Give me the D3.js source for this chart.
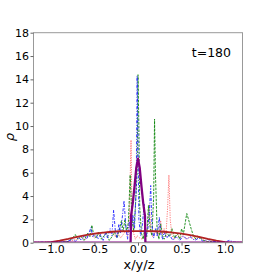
<!DOCTYPE html>
<html><head><meta charset="utf-8">
<script src="https://cdn.jsdelivr.net/npm/d3@7"></script>
<style>
html,body{margin:0;padding:0;background:#fff;}
svg{display:block;font-family:"DejaVu Sans",sans-serif;}
</style></head>
<body><div id="chart"></div>
<script>
const xTicks = [-1.0, -0.5, 0.0, 0.5, 1.0];
const yTicks = [0, 2, 4, 6, 8, 10, 12, 14, 16, 18];
const annotation = "t=180";

const blueX = [-1.2,-1.1,-1.0,-0.92,-0.85,-0.8,-0.75,-0.72,-0.68,-0.65,-0.62,-0.59,-0.56,-0.54,-0.52,-0.49,-0.46,-0.43,-0.4,-0.37,-0.35,-0.32,-0.3,-0.28,-0.26,-0.24,-0.22,-0.2,-0.18,-0.16,-0.14,-0.12,-0.1,-0.08,-0.06,-0.04,-0.02,-0.01,0.0,0.01,0.03,0.05,0.07,0.09,0.11,0.13,0.146,0.16,0.18,0.2,0.22,0.245,0.26,0.28,0.3,0.33,0.36,0.4,0.44,0.48,0.52,0.56,0.6,0.65,0.7,0.75,0.8,0.85,0.9,1.0,1.05,1.1,1.2];
const blueY = [0.02,0.05,0.03,0.08,0.05,0.15,0.3,0.1,0.45,0.2,0.6,0.3,0.9,1.3,0.5,0.8,0.3,0.7,0.2,0.9,0.4,1.2,0.6,2.8,1.0,0.4,1.6,0.8,2.2,3.6,1.4,0.3,1.8,0.8,2.4,1.2,5.0,14.3,9.0,2.0,0.6,1.5,3.3,0.5,1.0,2.5,4.9,1.5,0.4,1.2,0.6,2.2,0.8,0.3,0.9,0.4,0.7,0.2,0.5,0.2,0.6,0.3,0.5,0.2,0.4,0.1,0.3,0.05,0.15,0.05,0.2,0.05,0.02];

const greenX = [-1.2,-1.0,-0.9,-0.8,-0.75,-0.72,-0.69,-0.66,-0.62,-0.58,-0.55,-0.53,-0.51,-0.48,-0.45,-0.42,-0.39,-0.36,-0.33,-0.3,-0.27,-0.24,-0.21,-0.19,-0.17,-0.15,-0.13,-0.11,-0.09,-0.07,-0.05,-0.03,-0.01,0.0,0.01,0.02,0.04,0.06,0.08,0.1,0.12,0.14,0.16,0.18,0.19,0.2,0.22,0.24,0.26,0.28,0.3,0.33,0.36,0.39,0.42,0.45,0.48,0.5,0.52,0.54,0.56,0.58,0.61,0.64,0.67,0.7,0.75,0.8,0.9,1.0,1.2];
const greenY = [0.0,0.02,0.05,0.1,0.4,0.7,0.3,0.6,0.2,0.8,0.5,1.5,0.7,0.4,0.9,0.3,0.6,0.8,0.2,0.5,0.9,0.4,1.2,1.9,1.0,2.0,0.9,1.8,5.8,2.0,1.0,3.0,6.0,14.4,10.0,3.0,0.8,0.3,1.4,0.5,3.2,1.2,0.6,4.0,10.6,6.0,1.0,0.3,1.6,0.6,0.3,0.9,0.5,1.2,0.4,0.8,0.3,1.2,0.7,1.6,2.5,2.0,1.2,0.5,0.3,0.5,0.2,0.1,0.05,0.02,0.0];

const redX = [-1.2,-1.0,-0.9,-0.8,-0.7,-0.65,-0.6,-0.55,-0.5,-0.47,-0.44,-0.41,-0.38,-0.35,-0.32,-0.29,-0.26,-0.23,-0.2,-0.17,-0.14,-0.12,-0.1,-0.08,-0.07,-0.05,-0.03,-0.01,0.02,0.05,0.08,0.11,0.13,0.15,0.17,0.2,0.23,0.26,0.28,0.3,0.32,0.34,0.355,0.37,0.39,0.42,0.45,0.48,0.51,0.55,0.6,0.65,0.68,0.72,0.76,0.8,0.9,1.0,1.2];
const redY = [0.0,0.02,0.05,0.1,0.3,0.5,0.3,0.7,0.4,0.9,0.6,0.95,0.7,1.0,0.8,0.9,0.5,0.8,0.4,0.7,1.0,0.6,2.0,8.8,3.0,0.8,0.3,0.6,0.4,0.3,0.8,1.2,3.3,0.9,0.5,1.0,0.6,1.9,0.7,1.2,0.5,3.0,5.8,2.0,0.6,0.3,0.8,0.4,0.6,0.3,0.5,0.3,0.6,0.4,0.2,0.1,0.05,0.02,0.0];

const purpleX = [-1.2,-0.085,-0.08,-0.06,-0.04,-0.02,0.0,0.02,0.04,0.06,0.08,0.085,1.2];
const purpleY = [0,0,2.3,3.4,4.8,6.4,7.2,6.4,4.8,3.4,2.3,0,0];

const brownX = [-1.2,-1.08,-1.0,-0.9,-0.8,-0.7,-0.6,-0.5,-0.4,-0.3,-0.2,-0.1,0.0,0.1,0.2,0.3,0.4,0.5,0.6,0.7,0.8,0.9,1.0,1.08,1.2];
const brownY = [0,0,0.05,0.18,0.33,0.5,0.64,0.77,0.87,0.94,0.98,1.0,1.0,1.0,0.98,0.94,0.87,0.77,0.64,0.5,0.33,0.18,0.05,0,0];

const W = 270, H = 273;
const m = {left: 33.5, right: 242.5, top: 32.7, bottom: 242.7};
const svg = d3.select("#chart").append("svg").attr("width", W).attr("height", H);
const x = d3.scaleLinear().domain([-1.2, 1.2]).range([m.left, m.right]);
const y = d3.scaleLinear().domain([0, 18]).range([m.bottom, m.top]);

svg.append("clipPath").attr("id","clip").append("rect")
  .attr("x", m.left).attr("y", m.top).attr("width", m.right-m.left).attr("height", m.bottom-m.top);
const g = svg.append("g").attr("clip-path","url(#clip)");

const line = d3.line().x(d => x(d[0])).y(d => y(d[1]));
const zip = (a,b) => a.map((v,i)=>[v,b[i]]);

const series = [
  {xs: redX, ys: redY, color: "#ff6a6a", w: 1, dash: "1.2,1.2", op: 0.9},
  {xs: greenX, ys: greenY, color: "#118811", w: 1, dash: "2.5,1.2", op: 0.9},
  {xs: blueX, ys: blueY, color: "#2222ff", w: 1, dash: "3,1.5,1,1.5", op: 0.9},
  {xs: brownX, ys: brownY, color: "#b22222", w: 1.8, dash: null, op: 1},
  {xs: purpleX, ys: purpleY, color: "#800080", w: 2.3, dash: null, op: 1}
];
series.forEach(s => {
  g.append("path").datum(zip(s.xs, s.ys))
    .attr("d", line).attr("fill","none")
    .attr("stroke", s.color).attr("stroke-width", s.w)
    .attr("stroke-dasharray", s.dash).attr("stroke-opacity", s.op)
    .attr("stroke-linejoin","round");
});

svg.append("rect").attr("x", m.left).attr("y", m.top)
  .attr("width", m.right-m.left).attr("height", m.bottom-m.top)
  .attr("fill","none").attr("stroke","#999").attr("stroke-width",1);

const fmt = d => (d < 0 ? "\u2212" : "") + Math.abs(d).toFixed(1);
const xa = svg.append("g").attr("transform", `translate(0,${m.bottom})`)
  .call(d3.axisBottom(x).tickValues(xTicks).tickSize(3).tickPadding(0).tickFormat(fmt));
const ya = svg.append("g").attr("transform", `translate(${m.left},0)`)
  .call(d3.axisLeft(y).tickValues(yTicks).tickSize(3).tickPadding(1.5).tickFormat(d3.format("d")));
[xa, ya].forEach(a => {
  a.select(".domain").remove();
  a.selectAll(".tick line").attr("stroke","#666");
  a.selectAll(".tick text").attr("fill","#000").style("font-size","11px").style("font-family","DejaVu Sans");
});

svg.append("text").attr("x", (m.left+m.right)/2 + 1).attr("y", 269)
  .attr("text-anchor","middle").style("font-size","13px").text("x/y/z");
svg.append("text").attr("transform", "translate(14,137) rotate(-90)")
  .attr("text-anchor","middle").style("font-size","13px").style("font-style","italic").text("ρ");
svg.append("text").attr("x", 231).attr("y", 57)
  .attr("text-anchor","end").style("font-size","12.5px").text(annotation);
</script></body></html>
